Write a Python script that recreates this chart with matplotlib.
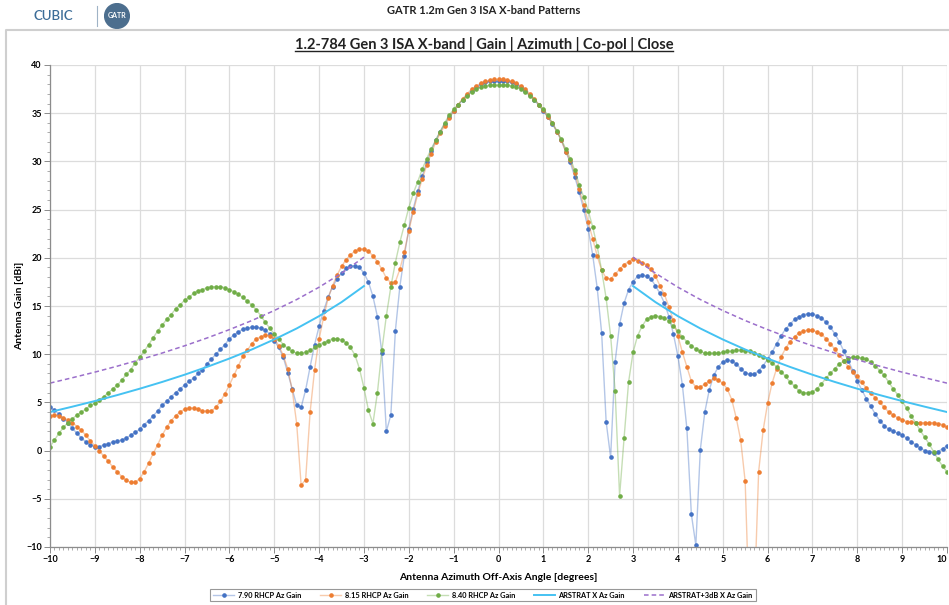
import numpy as np
import matplotlib.pyplot as plt
from matplotlib.patches import Circle
from matplotlib.lines import Line2D
from matplotlib.ticker import MultipleLocator
from matplotlib.colors import to_rgba

plt.rcParams['font.family'] = ['Lato', 'DejaVu Sans']

# off-axis angle, 0.1 deg steps
angles = np.round(np.arange(-100, 101) / 10, 1)

gain_790 = [
    4.5, 4.2, 3.8, 3.3, 2.9, 2.3, 1.8, 1.3, 0.9, 0.6,
    0.4, 0.4, 0.6, 0.7, 0.9, 1.0, 1.1, 1.3, 1.6, 1.9,
    2.2, 2.7, 3.1, 3.6, 4.1, 4.7, 5.1, 5.6, 6.0, 6.4,
    6.8, 7.2, 7.5, 8.0, 8.4, 9.0, 9.5, 10.0, 10.5, 11.0,
    11.6, 12.0, 12.3, 12.6, 12.7, 12.8, 12.8, 12.7, 12.5, 12.1,
    11.4, 10.7, 9.7, 8.1, 6.4, 4.7, 4.5, 6.3, 8.7, 11.0,
    12.9, 14.5, 15.9, 17.0, 17.8, 18.4, 18.9, 19.1, 19.2, 19.0,
    18.4, 17.5, 16.0, 13.9, 10.1, 2.0, 3.7, 12.4, 17.0, 20.2,
    23.0, 25.1, 26.9, 28.5, 29.9, 31.1, 32.2, 33.1, 33.9, 34.6,
    35.2, 35.8, 36.4, 36.9, 37.3, 37.7, 38.0, 38.2, 38.3, 38.3,
    38.3,
    38.3, 38.3, 38.2, 38.0, 37.7, 37.3, 36.9, 36.4, 35.8, 35.2,
    34.6, 33.9, 33.1, 32.2, 31.0, 29.9, 28.4, 26.8, 25.0, 23.0,
    20.3, 16.9, 12.2, 3.0, -0.7, 9.2, 13.1, 15.3, 16.7, 17.5,
    18.1, 18.2, 18.1, 17.8, 17.1, 16.3, 15.3, 13.9, 12.1, 9.8,
    6.8, 2.3, -6.6, -9.8, 0.1, 4.0, 6.3, 7.8, 8.7, 9.2,
    9.4, 9.3, 9.0, 8.5, 8.1, 7.9, 7.9, 8.3, 8.8, 9.5,
    10.2, 11.1, 11.9, 12.6, 13.1, 13.6, 13.9, 14.1, 14.2, 14.2,
    14.0, 13.8, 13.3, 12.8, 12.1, 11.3, 10.3, 9.3, 8.3, 7.2,
    6.3, 5.4, 4.6, 3.8, 3.1, 2.6, 2.2, 2.0, 1.8, 1.6,
    1.3, 0.9, 0.6, 0.3, 0.0, -0.1, -0.2, -0.1, 0.2, 0.5,
]

gain_815 = [
    3.6, 3.7, 3.6, 3.4, 3.2, 2.9, 2.5, 2.1, 1.6, 1.0,
    0.5, 0.0, -0.6, -1.1, -1.7, -2.2, -2.7, -3.1, -3.3, -3.3,
    -2.9, -2.2, -1.3, -0.3, 0.6, 1.6, 2.4, 3.1, 3.6, 4.0,
    4.3, 4.4, 4.4, 4.3, 4.1, 4.1, 4.1, 4.5, 5.1, 5.9,
    6.8, 7.8, 8.8, 9.8, 10.4, 11.1, 11.6, 11.8, 12.0, 11.9,
    11.6, 10.9, 9.9, 8.5, 6.3, 2.8, -3.6, -3.0, 4.0, 8.4,
    11.6, 13.8, 15.8, 17.1, 18.2, 19.1, 19.8, 20.3, 20.7, 20.9,
    20.9, 20.7, 20.2, 19.6, 18.8, 17.9, 17.4, 17.5, 18.8, 20.6,
    22.8, 24.8, 26.6, 28.2, 29.6, 30.8, 32.0, 32.9, 33.7, 34.5,
    35.2, 35.9, 36.5, 37.0, 37.5, 37.8, 38.1, 38.3, 38.4, 38.5,
    38.5,
    38.5, 38.4, 38.3, 38.1, 37.8, 37.5, 37.0, 36.5, 35.9, 35.3,
    34.6, 34.0, 33.1, 32.2, 31.0, 30.1, 28.8, 27.1, 25.5, 23.7,
    22.0, 20.2, 18.7, 17.9, 17.8, 18.3, 18.8, 19.3, 19.6, 19.9,
    19.7, 19.5, 19.3, 18.8, 18.1, 17.1, 16.2, 14.9, 13.5, 11.9,
    10.2, 8.7, 7.2, 6.6, 6.6, 6.9, 7.2, 7.5, 7.3, 7.0,
    6.4, 5.3, 3.4, 1.1, -3.2, -18.0, -16.0, -2.2, 2.1, 4.9,
    7.0, 8.5, 9.7, 10.6, 11.3, 11.8, 12.2, 12.4, 12.5, 12.5,
    12.3, 12.1, 11.6, 11.1, 10.5, 9.9, 9.3, 8.7, 8.2, 7.7,
    7.1, 6.5, 6.0, 5.5, 5.0, 4.5, 4.0, 3.7, 3.4, 3.2,
    3.0, 3.0, 2.9, 2.9, 2.9, 2.9, 2.9, 2.8, 2.7, 2.4,
]

gain_840 = [
    0.4, 1.1, 1.8, 2.4, 2.9, 3.3, 3.7, 4.0, 4.3, 4.7,
    4.9, 5.3, 5.6, 6.0, 6.4, 6.8, 7.3, 7.9, 8.4, 9.1,
    9.7, 10.3, 11.0, 11.7, 12.4, 13.0, 13.6, 14.1, 14.7, 15.1,
    15.6, 15.9, 16.3, 16.6, 16.7, 16.9, 17.0, 17.0, 17.0, 16.9,
    16.7, 16.5, 16.2, 15.9, 15.5, 15.1, 14.6, 14.0, 13.3, 12.7,
    12.1, 11.6, 11.0, 10.6, 10.3, 10.1, 10.1, 10.2, 10.4, 10.7,
    11.0, 11.2, 11.4, 11.6, 11.6, 11.5, 11.2, 10.7, 9.9, 8.5,
    6.5, 4.2, 2.8, 6.0, 10.4, 14.0, 17.0, 19.5, 21.6, 23.4,
    25.2, 26.7, 27.9, 29.2, 30.3, 31.3, 32.2, 33.1, 34.0, 34.8,
    35.4, 35.9, 36.4, 36.8, 37.2, 37.5, 37.7, 37.8, 37.9, 37.9,
    37.9,
    37.9, 37.9, 37.8, 37.7, 37.5, 37.2, 36.8, 36.4, 35.9, 35.4,
    34.8, 34.0, 33.2, 32.3, 31.3, 30.3, 29.1, 27.6, 26.3, 24.9,
    23.2, 21.2, 18.7, 15.8, 11.9, 6.2, -4.7, 1.3, 7.1, 10.2,
    11.9, 12.9, 13.6, 13.9, 14.0, 13.9, 13.8, 13.4, 12.9, 12.4,
    11.8, 11.3, 10.9, 10.5, 10.3, 10.1, 10.1, 10.1, 10.1, 10.2,
    10.3, 10.3, 10.4, 10.4, 10.3, 10.3, 10.1, 9.9, 9.7, 9.4,
    9.1, 8.7, 8.2, 7.7, 7.1, 6.7, 6.2, 6.0, 6.0, 6.1,
    6.4, 6.9, 7.5, 8.0, 8.5, 9.0, 9.3, 9.6, 9.7, 9.7,
    9.6, 9.5, 9.2, 8.8, 8.3, 7.8, 7.1, 6.4, 5.8, 5.1,
    4.4, 3.6, 2.9, 2.1, 1.4, 0.7, -0.1, -0.9, -1.6, -2.2,
]

# ARSTRAT mask, read at |angle| from 3 to 10 deg
mask_angles = [3.0, 3.5, 4.0, 4.5, 5.0, 5.5, 6.0, 6.5, 7.0, 7.5, 8.0, 8.5, 9.0, 9.5, 10.0]
arstrat_x = [17.07, 15.40, 13.95, 12.67, 11.53, 10.49, 9.55, 8.68, 7.87, 7.12, 6.42, 5.76, 5.14, 4.56, 4.00]
arstrat_3db = [20.07, 18.40, 16.95, 15.67, 14.53, 13.49, 12.55, 11.68, 10.87, 10.12, 9.42, 8.76, 8.14, 7.56, 7.00]

x_ticks = list(range(-10, 11))
y_ticks = list(range(-10, 41, 5))

labels = ['7.90 RHCP Az Gain', '8.15 RHCP Az Gain', '8.40 RHCP Az Gain',
          'ARSTRAT X Az Gain', 'ARSTRAT+3dB X Az Gain']
colors = ['#4472C4', '#ED7D31', '#70AD47', '#45C2F2', '#9B6FCB']

fig = plt.figure(figsize=(9.49, 6.05), dpi=100)

# header
fig.text(484 / 949, 1 - 10 / 605, 'GATR 1.2m Gen 3 ISA X-band Patterns',
         ha='center', va='center', fontsize=8, fontweight='bold', color='#222222')
fig.text(33 / 949, 1 - 16 / 605, 'CUBIC', ha='left', va='center', fontsize=9.5,
         fontweight='semibold', color='#3C6D98')
fig.add_artist(Line2D([97 / 949, 97 / 949], [1 - 6 / 605, 1 - 26 / 605],
                      color='#9fb3c6', lw=0.8))
logo = fig.add_axes([104 / 949, 1 - 29 / 605, 26 / 949, 26 / 605])
logo.set_xlim(-1, 1)
logo.set_ylim(-1, 1)
logo.set_aspect('equal')
logo.axis('off')
logo.add_patch(Circle((0, 0), 0.95, color='#4C6E8E'))
logo.text(0, 0.05, 'GATR', ha='center', va='center', fontsize=5, color='white',
          fontweight='bold')

# chart frame
fig.add_artist(Line2D([6 / 949, 6 / 949, 1.0], [0, 1 - 30 / 605, 1 - 30 / 605],
                      color='#cfcfcf', lw=1.5))

ax = fig.add_axes([50 / 949, 1 - 547 / 605, 897 / 949, 482 / 605])

for g, lab, c in zip([gain_790, gain_815, gain_840], labels[:3], colors[:3]):
    ax.plot(angles, g, color=to_rgba(c, 0.4), lw=1.0, marker='o', ms=2.3,
            markerfacecolor=c, markeredgecolor=c, label=lab)

pos = np.array(mask_angles)
ax.plot(pos, arstrat_x, color=colors[3], lw=1.4, label=labels[3])
ax.plot(-pos, arstrat_x, color=colors[3], lw=1.4)
ax.plot(pos, arstrat_3db, color=colors[4], lw=1.1, ls=(0, (3, 2)), label=labels[4])
ax.plot(-pos, arstrat_3db, color=colors[4], lw=1.1, ls=(0, (3, 2)))

ax.set_xlim(-10, 10)
ax.set_ylim(-10, 40)
ax.set_xticks(x_ticks)
ax.set_yticks(y_ticks)
ax.xaxis.set_minor_locator(MultipleLocator(0.1))
ax.yaxis.set_minor_locator(MultipleLocator(1))
ax.grid(True, which='major', color='#dcdcdc', lw=0.9)
ax.set_axisbelow(True)
for s in ['top', 'right']:
    ax.spines[s].set_visible(False)
for s in ['left', 'bottom']:
    ax.spines[s].set_color('#8c8c8c')
    ax.spines[s].set_linewidth(0.9)
ax.tick_params(which='major', length=4, width=0.7, color='#8c8c8c', labelsize=6.5,
               pad=2)
ax.tick_params(which='minor', length=2, width=0.5, color='#8c8c8c')
for t in ax.get_xticklabels() + ax.get_yticklabels():
    t.set_fontweight('bold')
# last x label sits on the figure edge
ax.get_xticklabels()[-1].set_horizontalalignment('right')

ax.set_ylabel('Antenna Gain [dBi]', fontsize=7.5, fontweight='bold', labelpad=1)
ax.set_xlabel('Antenna Azimuth Off-Axis Angle [degrees]', fontsize=7.5,
              fontweight='bold', labelpad=6)

title = fig.text(484 / 949, 1 - 45 / 605,
                 '1.2-784 Gen 3 ISA X-band | Gain | Azimuth | Co-pol | Close',
                 ha='center', va='center', fontsize=10.5, fontweight='bold',
                 color='#222222')

leg = fig.legend(loc='center', bbox_to_anchor=(483 / 949, 1 - 595 / 605), ncol=5,
                 fontsize=5.3, frameon=True, fancybox=False, edgecolor='#7f7f7f',
                 handlelength=2.8, handletextpad=0.5, columnspacing=2.6,
                 borderpad=0.4)
leg.get_frame().set_linewidth(0.8)
for t in leg.get_texts():
    t.set_fontweight('bold')

# underline the chart title
fig.canvas.draw()
bb = title.get_window_extent().transformed(fig.transFigure.inverted())
fig.add_artist(Line2D([bb.x0, bb.x1], [bb.y0 + 0.002, bb.y0 + 0.002],
                      color='#222222', lw=1.0))

fig.savefig('out.png', dpi=100)
